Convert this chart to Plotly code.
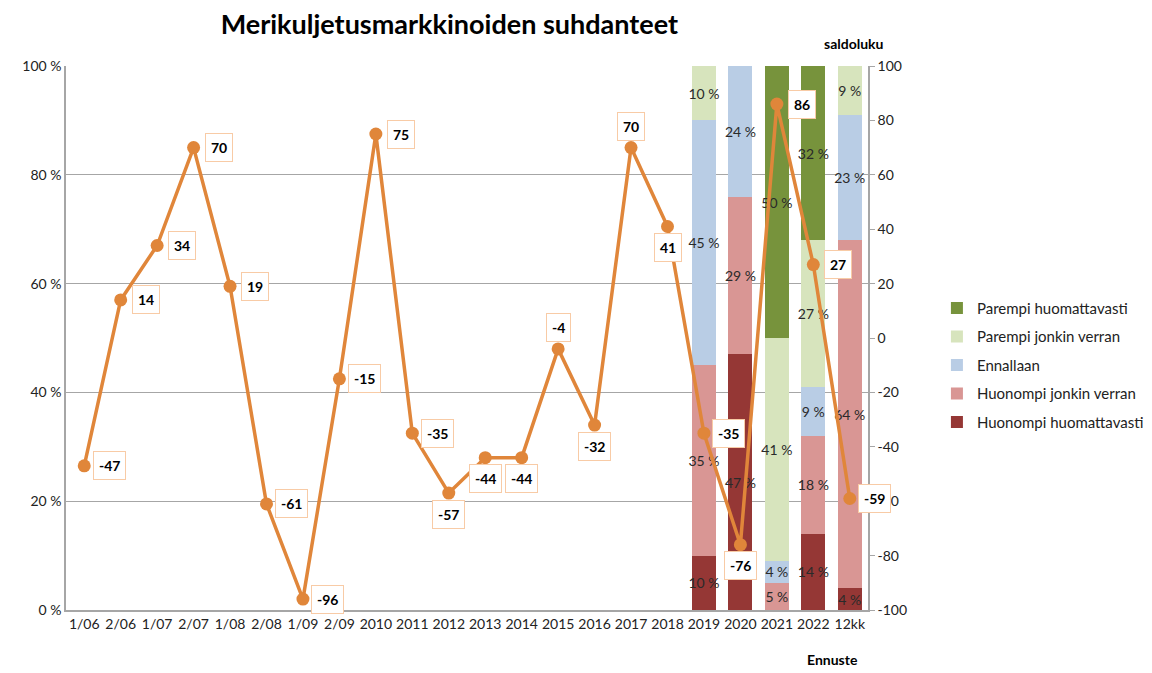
import plotly.graph_objects as go

# ---- data ----
categories = ["1/06", "2/06", "1/07", "2/07", "1/08", "2/08", "1/09", "2/09", "2010", "2011",
              "2012", "2013", "2014", "2015", "2016", "2017", "2018", "2019", "2020", "2021",
              "2022", "12kk"]
saldoluku = [-47, 14, 34, 70, 19, -61, -96, -15, 75, -35,
             -57, -44, -44, -4, -32, 70, 41, -35, -76, 86,
             27, -59]

bar_categories = ["2019", "2020", "2021", "2022", "12kk"]
huonompi_huom = [10, 47, 0, 14, 4]
huonompi_jonk = [35, 29, 5, 18, 64]
ennallaan = [45, 24, 4, 9, 23]
parempi_jonk = [10, 0, 41, 27, 9]
parempi_huom = [0, 0, 50, 32, 0]

left_ticks = [0, 20, 40, 60, 80, 100]
right_ticks = list(range(-100, 101, 20))

series = [
    ("Huonompi huomattavasti", huonompi_huom, "#953735"),
    ("Huonompi jonkin verran", huonompi_jonk, "#D99694"),
    ("Ennallaan", ennallaan, "#B9CDE5"),
    ("Parempi jonkin verran", parempi_jonk, "#D7E4BD"),
    ("Parempi huomattavasti", parempi_huom, "#77933C"),
]

# label placement for line values (r = right, u = above, d = below)
label_side = ["r", "r", "r", "r", "r", "r", "r", "r", "r", "r",
              "d", "d", "d", "u", "d", "u", "d", "r", "d", "r",
              "r", "r"]

FONT = "Lato"
LINE_COLOR = "#E0863A"

fig = go.Figure()

# bar positions as category indices (axis is categorical)
bar_idx = [categories.index(c) for c in bar_categories]

for rank, (name, vals, col) in enumerate(series):
    fig.add_bar(
        x=bar_idx, y=vals, name=name, marker_color=col, marker_line_width=0,
        width=0.66, legendgroup=name, legendrank=10 - rank,
        text=[f"{v} %" if v > 0 else "" for v in vals],
        textposition="inside", insidetextanchor="middle", textangle=0,
        textfont=dict(family=FONT, size=14, color="#2A2A2A"),
        hoverinfo="skip",
    )

fig.add_scatter(
    x=list(range(len(categories))), y=saldoluku, yaxis="y2", mode="lines+markers",
    showlegend=False,
    line=dict(color=LINE_COLOR, width=3.5),
    marker=dict(color=LINE_COLOR, size=13),
)

for i, (v, side) in enumerate(zip(saldoluku, label_side)):
    xs, ys = 0, 0
    if side == "r":
        xs = 25
    elif side == "u":
        ys = 21
    else:
        ys = -21
    fig.add_annotation(
        x=i, y=v, xref="x", yref="y2", text=f"<b>{v}</b>", showarrow=False,
        xshift=xs, yshift=ys, bgcolor="white", bordercolor="#F8CBA6", borderwidth=1,
        borderpad=5, font=dict(family=FONT, size=14, color="black"),
    )

fig.add_annotation(text="<b>saldoluku</b>", xref="paper", yref="paper", x=0.982, y=1.0,
                   xanchor="center", yshift=33, showarrow=False,
                   font=dict(family=FONT, size=14, color="black"))
fig.add_annotation(text="<b>Ennuste</b>", xref="paper", yref="paper", x=0.956, y=0.0,
                   xanchor="center", yshift=-60, showarrow=False,
                   font=dict(family=FONT, size=14, color="black"))

# page body adds an 8px margin, so the figure is drawn 8px in from the corner
fig.update_layout(
    width=1144, height=665,
    margin=dict(l=58, r=284, t=58, b=63, autoexpand=False),
    paper_bgcolor="white", plot_bgcolor="white",
    barmode="stack",
    title=dict(text="<b>Merikuljetusmarkkinoiden suhdanteet</b>", x=0.478, xref="paper",
               xanchor="center", y=0.975, yanchor="middle",
               font=dict(family=FONT, size=27, color="black")),
    font=dict(family=FONT, size=14, color="#222222"),
    uniformtext=dict(minsize=14, mode="show"),
    legend=dict(x=0.812, xref="container", y=0.45, xanchor="left", yanchor="middle",
                tracegroupgap=6,
                font=dict(family=FONT, size=15, color="#222222"),
                itemwidth=30),
    xaxis=dict(range=[-0.5, len(categories) - 0.5], tickmode="array",
               tickvals=list(range(len(categories))), ticktext=categories,
               showline=True, linecolor="#A6A6A6", linewidth=1.5, ticks="",
               showgrid=False, zeroline=False, tickfont=dict(size=14)),
    yaxis=dict(range=[0, 100], tickmode="array", tickvals=left_ticks,
               ticktext=[f"{t} %" for t in left_ticks],
               showgrid=True, gridcolor="#A6A6A6", gridwidth=1,
               showline=True, linecolor="#A6A6A6", linewidth=1.5, zeroline=False,
               ticks="", tickfont=dict(size=14)),
    yaxis2=dict(range=[-100, 100], tickmode="array", tickvals=right_ticks,
                ticktext=[str(t) for t in right_ticks], overlaying="y",
                side="right", showgrid=False, zeroline=False, showline=True,
                linecolor="#A6A6A6", linewidth=1.5, ticks="outside", ticklen=5,
                tickcolor="#A6A6A6", tickfont=dict(size=14)),
)

fig.write_html("out.html")
